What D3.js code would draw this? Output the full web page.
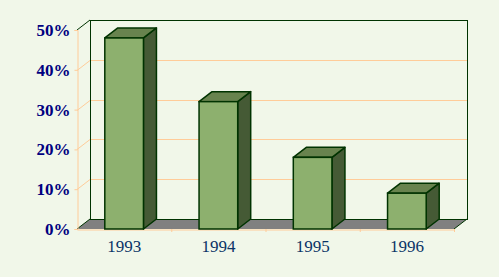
<!DOCTYPE html>
<html>
<head>
<meta charset="utf-8">
<script src="https://d3js.org/d3.v7.min.js"></script>
<style>
body { margin: 0; background: #f1f7e9; }
svg { display: block; }
</style>
</head>
<body>
<div id="chart"></div>
<script>
var years = ["1993", "1994", "1995", "1996"];
var shares = [48, 32, 18, 9];
var yTicks = [0, 10, 20, 30, 40, 50];

var width = 499, height = 277;
var plotLeft = 77, plotRight = 454, plotBottom = 229, plotTop = 30;
var dx = 13, dy = -10;   // depth of the 3d box

var green = "#003300", grid = "#ffcc99";

var svg = d3.select("#chart").append("svg")
    .attr("width", width).attr("height", height);

svg.append("rect").attr("width", width).attr("height", height).attr("fill", "#f1f7e9");

var x = d3.scaleBand().domain(years).range([plotLeft, plotRight]);
var y = d3.scaleLinear().domain([0, 50]).range([plotBottom, plotTop]);

var data = years.map(function(d, i) { return {year: d, v: shares[i]}; });

// floor
svg.append("path")
    .attr("d", "M" + plotLeft + "," + y(0) + "L" + plotRight + "," + y(0) +
               "L" + (plotRight + dx) + "," + (y(0) + dy) + "L" + (plotLeft + dx) + "," + (y(0) + dy) + "Z")
    .attr("fill", "#808080");

var inner = yTicks.filter(function(d) { return d > 0 && d < 50; });

// back wall grid lines
svg.selectAll("line.grid")
    .data(inner)
    .enter().append("line")
    .attr("class", "grid")
    .attr("x1", plotLeft + dx).attr("x2", plotRight + dx)
    .attr("y1", function(d) { return Math.round(y(d) + dy) + 0.5; })
    .attr("y2", function(d) { return Math.round(y(d) + dy) + 0.5; })
    .attr("stroke", grid);

// side wall diagonals
svg.selectAll("line.diag")
    .data(inner)
    .enter().append("line")
    .attr("class", "diag")
    .attr("x1", plotLeft).attr("x2", plotLeft + dx)
    .attr("y1", function(d) { return Math.round(y(d)) + 0.5; })
    .attr("y2", function(d) { return Math.round(y(d) + dy) + 0.5; })
    .attr("stroke", grid);

// back wall frame
svg.append("rect")
    .attr("x", plotLeft + dx + 0.5).attr("y", y(50) + dy + 0.5)
    .attr("width", plotRight - plotLeft).attr("height", y(0) - y(50))
    .attr("fill", "none").attr("stroke", green);

svg.append("path")
    .attr("d", "M" + plotLeft + "," + y(50) + "L" + (plotLeft + dx) + "," + (y(50) + dy) +
               "M" + plotLeft + "," + y(0) + "L" + (plotLeft + dx) + "," + (y(0) + dy) +
               "M" + plotRight + "," + y(0) + "L" + (plotRight + dx) + "," + (y(0) + dy))
    .attr("fill", "none").attr("stroke", green);

// axes
var yAxis = d3.axisLeft(y).tickValues(yTicks).tickFormat(function(d) { return d + "%"; }).tickSize(3).tickPadding(4);
var gy = svg.append("g").attr("transform", "translate(" + (plotLeft + 0.5) + ",0)").call(yAxis);
gy.select(".domain").attr("stroke", grid);
gy.selectAll(".tick line").attr("stroke", grid);
gy.selectAll("text")
    .attr("fill", "#000080")
    .style("font-family", "'Liberation Serif', 'Times New Roman', serif")
    .style("font-size", "17px").style("font-weight", "bold");

var xAxis = d3.axisBottom(x).tickSize(0).tickPadding(10);
var gx = svg.append("g").attr("transform", "translate(0," + (plotBottom + 0.5) + ")").call(xAxis);
gx.select(".domain").attr("stroke", grid);
gx.selectAll("text")
    .attr("fill", "#0a3366")
    .style("font-family", "'Liberation Serif', 'Times New Roman', serif")
    .style("font-size", "17px");

svg.selectAll("line.xtick")
    .data(years)
    .enter().append("line")
    .attr("class", "xtick")
    .attr("x1", function(d) { return x(d) + x.step() + 0.5; })
    .attr("x2", function(d) { return x(d) + x.step() + 0.5; })
    .attr("y1", plotBottom).attr("y2", plotBottom + 3)
    .attr("stroke", grid);

// bars
var bw = x.bandwidth() * 0.41;
var bars = svg.selectAll("g.bar").data(data).enter().append("g").attr("class", "bar");

function bx(d) { return x(d.year) + (x.bandwidth() - bw) / 2; }

bars.append("path")   // side
    .attr("d", function(d) {
        var x1 = bx(d) + bw, y0 = y(0), y1 = y(d.v);
        return "M" + x1 + "," + y1 + "L" + (x1 + dx) + "," + (y1 + dy) +
               "L" + (x1 + dx) + "," + (y0 + dy) + "L" + x1 + "," + y0 + "Z";
    })
    .attr("fill", "#455a35").attr("stroke", green).attr("stroke-width", 1.5).attr("stroke-linejoin", "round");

bars.append("path")   // top
    .attr("d", function(d) {
        var x0 = bx(d), x1 = x0 + bw, y1 = y(d.v);
        return "M" + x0 + "," + y1 + "L" + (x0 + dx) + "," + (y1 + dy) +
               "L" + (x1 + dx) + "," + (y1 + dy) + "L" + x1 + "," + y1 + "Z";
    })
    .attr("fill", "#68834e").attr("stroke", green).attr("stroke-width", 1.5).attr("stroke-linejoin", "round");

bars.append("rect")   // front
    .attr("x", bx).attr("y", function(d) { return y(d.v); })
    .attr("width", bw).attr("height", function(d) { return y(0) - y(d.v); })
    .attr("fill", "#8db06e").attr("stroke", green).attr("stroke-width", 1.5);
</script>
</body>
</html>
